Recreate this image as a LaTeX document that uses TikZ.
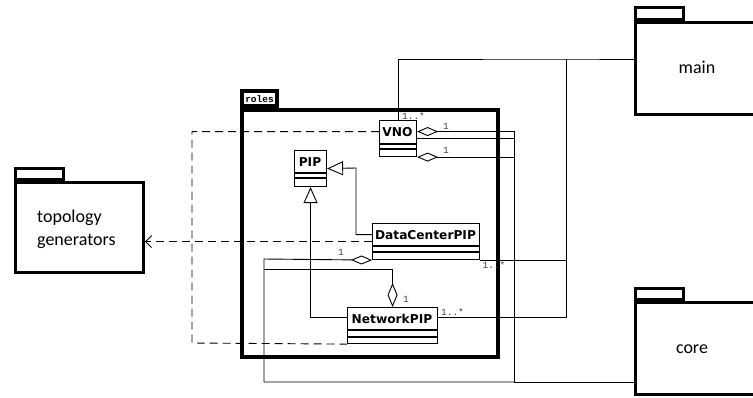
\documentclass[tikz,border=0pt]{standalone}
\usepackage{fontspec}
\setmainfont{Carlito}
\newfontfamily\clsfont{DejaVu Sans}
\newfontfamily\multfont{Liberation Mono}
\usetikzlibrary{arrows.meta}

\begin{document}
\begin{tikzpicture}[x=1pt,y=-1pt,
  pkgbody/.style={draw, line width=3pt, inner sep=0pt, anchor=north west},
  pkgtab/.style={draw, line width=3pt, inner sep=0pt, anchor=south west},
  rolesbody/.style={draw, line width=4pt, inner sep=0pt, anchor=north west},
  pkglabel/.style={font=\fontsize{18}{23}\selectfont, inner sep=0pt},
  cls/.style={draw, line width=1.1pt, inner sep=0pt, anchor=north west, fill=white},
  clsname/.style={font=\clsfont\bfseries\fontsize{12.2}{14}\selectfont, inner sep=0pt},
  mult/.style={font=\multfont\fontsize{9.5}{10}\selectfont, text=black!75, inner sep=0pt},
  conn/.style={line width=0.9pt},
  agg/.style={conn, {Diamond[open,length=21pt,width=9pt]}-},
  aggv/.style={conn, {Diamond[open,length=24pt,width=10pt]}-},
  gen/.style={conn, -{Triangle[open,length=16pt,width=14pt]}},
  dep/.style={line width=0.9pt, dash pattern=on 8pt off 5pt}
]
\useasboundingbox (0,0) rectangle (753,397);

% packages
\node[pkgbody, minimum width=128pt, minimum height=90pt] (topo) at (14,181) {};
\node[pkgtab, minimum width=48pt, minimum height=11pt] (topotab) at (topo.north west) {};
\node[pkglabel, align=left, anchor=west] (topotxt) at (37,229) {topology\\generators};

\node[pkgbody, minimum width=130pt, minimum height=92pt] (main) at (634,21) {};
\node[pkgtab, minimum width=48pt, minimum height=12pt] (maintab) at (main.north west) {};
\node[pkglabel] (maintxt) at (697,67) {main};

\node[pkgbody, minimum width=130pt, minimum height=92pt] (core) at (634,301) {};
\node[pkgtab, minimum width=48pt, minimum height=11pt] (coretab) at (core.north west) {};
\node[pkglabel] (coretxt) at (692,349) {core};

\node[rolesbody, minimum width=256pt, minimum height=247pt] (roles) at (240,108) {};
\node[draw, line width=4pt, inner sep=0pt, anchor=south west,
      minimum width=35pt, minimum height=15pt] (rolestab) at (roles.north west) {};
\node[font=\multfont\bfseries\fontsize{9.5}{10}\selectfont, inner sep=0pt] (rolestxt)
      at ([yshift=-1pt]rolestab.center) {roles};

% junction points of the routed connectors
\coordinate (jmain) at (566,59);
\coordinate (jcore) at (514,382);
\coordinate (jleft) at (264,259);
\coordinate (jgen)  at (356,168);
\coordinate (jdep)  at (192,343);

% classes
\node[cls, minimum width=37pt, minimum height=36pt] (vno) at (379,120) {};
\node[clsname] (vnotxt) at (397.5,132) {VNO};
\draw[line width=1.1pt] ([yshift=-24pt]vno.north west) -- ([yshift=-24pt]vno.north east);
\draw[line width=1.1pt] ([yshift=-29pt]vno.north west) -- ([yshift=-29pt]vno.north east);

\node[cls, minimum width=32pt, minimum height=36pt] (pip) at (294,150) {};
\node[clsname] (piptxt) at (310,162) {PIP};
\draw[line width=1.1pt] ([yshift=-23pt]pip.north west) -- ([yshift=-23pt]pip.north east);
\draw[line width=1.1pt] ([yshift=-28pt]pip.north west) -- ([yshift=-28pt]pip.north east);

\node[cls, minimum width=107pt, minimum height=36pt] (dcp) at (372,223) {};
\node[clsname] (dcptxt) at (425.5,235) {DataCenterPIP};
\draw[line width=1.1pt] ([yshift=-23pt]dcp.north west) -- ([yshift=-23pt]dcp.north east);
\draw[line width=1.1pt] ([yshift=-29pt]dcp.north west) -- ([yshift=-29pt]dcp.north east);

\node[cls, minimum width=90pt, minimum height=36pt] (npip) at (347,307) {};
\node[clsname] (npiptxt) at (392,319) {NetworkPIP};
\draw[line width=1.1pt] ([yshift=-23pt]npip.north west) -- ([yshift=-23pt]npip.north east);
\draw[line width=1.1pt] ([yshift=-30pt]npip.north west) -- ([yshift=-30pt]npip.north east);

% dependencies
\draw[dep] ([yshift=7pt]vno.west) -| (jdep) -- (npip.south west);
\draw[dep, -{Straight Barb[length=6pt,width=12pt]}] (dcp.west) -- (dcp.west -| topo.east);

% links to main
\draw[conn] (vno.north) |- (jmain) -- (jmain -| main.west);
\draw[conn] (dcp.south east) -| (jmain);
\draw[conn] ([yshift=8pt]npip.east) -| (jmain);

% links to core
\draw[agg] ([yshift=7pt]vno.east) -| (jcore) -- (jcore -| core.west);
\draw[conn] (vno.east) -- (vno.east -| jcore);
\draw[agg] (vno.south east) -- (vno.south east -| jcore);
\draw[agg] (dcp.south west) -- (jleft) |- (jcore);
\draw[aggv] (npip.north) |- ([yshift=-10pt]jleft);

% generalisations
\draw[gen] ([yshift=7pt]dcp.west) -| (jgen) -- (pip.east);
\draw[gen] ([yshift=8pt]npip.west) -| (pip.south);

% multiplicities
\node[mult] (m1) at (413.5,116) {1..*};
\node[mult] (m2) at (446,126) {1};
\node[mult] (m3) at (446,150) {1};
\node[mult] (m4) at (341,252) {1};
\node[mult] (m5) at (494,265) {1..*};
\node[mult] (m6) at (406,299) {1};
\node[mult] (m7) at (452.5,312) {1..*};
\end{tikzpicture}
\end{document}
